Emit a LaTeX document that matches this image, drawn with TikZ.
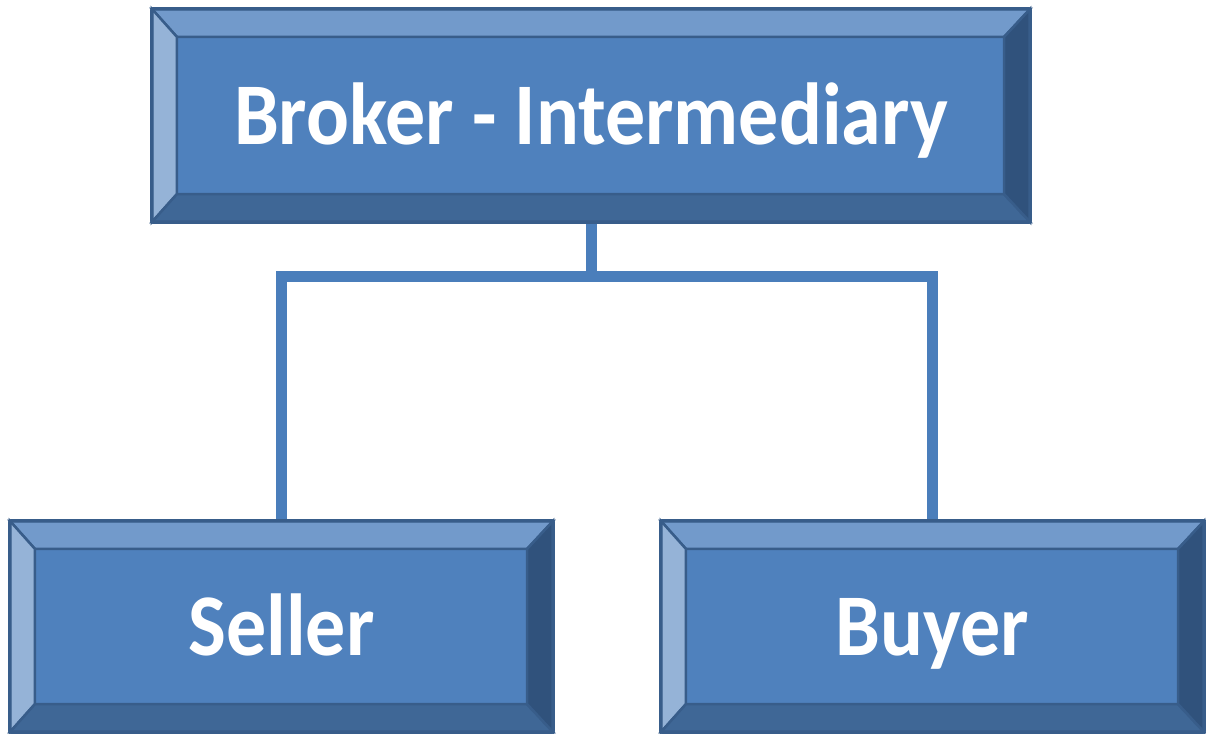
\documentclass[tikz,border=0pt]{standalone}
\usepackage{fontspec}
\setmainfont{Carlito}
\usepackage{graphicx}
\definecolor{face}{HTML}{4F81BD}
\definecolor{bvtop}{HTML}{729ACB}
\definecolor{bvleft}{HTML}{95B3D7}
\definecolor{bvbot}{HTML}{3F6796}
\definecolor{bvright}{HTML}{30527C}
\definecolor{edge}{HTML}{385D8A}
\definecolor{connc}{HTML}{4A7EBB}
\newcommand\bevelit[1]{%
  \coordinate (#1-a) at ([shift={(25,28)}]#1.north west);
  \coordinate (#1-b) at ([shift={(-26,28)}]#1.north east);
  \coordinate (#1-c) at ([shift={(-26,-28)}]#1.south east);
  \coordinate (#1-d) at ([shift={(25,-28)}]#1.south west);
  \filldraw[bevel,fill=bvtop] (#1.north west) -- (#1.north east) -- (#1-b) -- (#1-a) -- cycle;
  \filldraw[bevel,fill=bvleft] (#1.north west) -- (#1-a) -- (#1-d) -- (#1.south west) -- cycle;
  \filldraw[bevel,fill=bvbot] (#1.south west) -- (#1-d) -- (#1-c) -- (#1.south east) -- cycle;
  \filldraw[bevel,fill=bvright] (#1.north east) -- (#1-b) -- (#1-c) -- (#1.south east) -- cycle;
  \draw[edge,line width=3.5pt,rounded corners=1.5pt] (#1.north west) rectangle (#1.south east);
}
\tikzset{
  x=1pt,y=-1pt,
  bbox/.style={rectangle,fill=face,inner sep=0pt,text=white,
    font=\fontsize{80}{90}\selectfont\bfseries,text height=57pt,text depth=0pt},
  bevel/.style={draw=edge,line width=2.5pt,line join=miter},
  conn/.style={draw=connc,line width=11pt,line cap=butt,line join=miter},
}
\newcommand\tl[1]{\scalebox{1}[1.1]{#1}}
\begin{document}
\begin{tikzpicture}
\useasboundingbox (0,0) rectangle (1206,733);
\node[bbox,minimum width=878pt,minimum height=213pt] (broker) at (591,115.5) {\tl{Broker - Intermediary}};
\node[bbox,minimum width=543pt,minimum height=211pt] (seller) at (281.5,626.5) {\tl{Seller}};
\node[bbox,minimum width=543pt,minimum height=211pt] (buyer) at (932.5,626.5) {\tl{Buyer}};
\coordinate (bus) at (0,276);
\draw[conn] (broker.south) -- (broker.south |- bus);
\draw[conn] (seller.north) -- (seller.north |- bus) -- (buyer.north |- bus) -- (buyer.north);
\bevelit{broker}
\bevelit{seller}
\bevelit{buyer}
\end{tikzpicture}
\end{document}
